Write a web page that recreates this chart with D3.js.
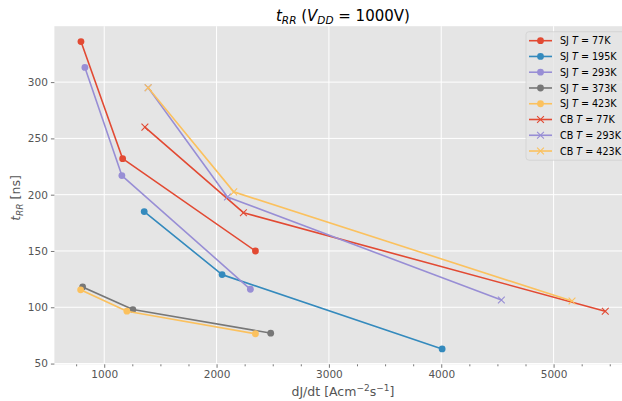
<!DOCTYPE html>
<html><head><meta charset="utf-8">
<script src="https://cdn.jsdelivr.net/npm/d3@7"></script>
<style>body{margin:0;background:#fff}svg{display:block;font-family:"DejaVu Sans",sans-serif}</style>
</head><body><svg id="c" width="622" height="401"></svg>
<script>
// ---- data ----
const seriesNames = ["SJ 77K","SJ 195K","SJ 293K","SJ 373K","SJ 423K","CB 77K","CB 293K","CB 423K"];
const seriesLabels = [["SJ","77K"],["SJ","195K"],["SJ","293K"],["SJ","373K"],["SJ","423K"],["CB","77K"],["CB","293K"],["CB","423K"]];
const seriesColors = ["#E24A33","#348ABD","#988ED5","#777777","#FBC15E","#E24A33","#988ED5","#FBC15E"];
const seriesMarkers = ["o","o","o","o","o","x","x","x"];
const sj77x  = [793, 1164, 2346],  sj77y  = [336, 232, 150];
const sj195x = [1356, 2049, 4008], sj195y = [185, 129, 63];
const sj293x = [828, 1157, 2301],  sj293y = [313, 217, 116];
const sj373x = [808, 1255, 2482],  sj373y = [118, 98, 77];
const sj423x = [790, 1202, 2346],  sj423y = [115.5, 96.5, 76.5];
const cb77x  = [1362, 2239, 5460], cb77y  = [260, 184, 96.5];
const cb293x = [1391, 2097, 4535], cb293y = [295, 198, 106.5];
const cb423x = [1391, 2153, 5164], cb423y = [295, 202.5, 105.5];
const xs = [sj77x, sj195x, sj293x, sj373x, sj423x, cb77x, cb293x, cb423x];
const ys = [sj77y, sj195y, sj293y, sj373y, sj423y, cb77y, cb293y, cb423y];
const xTicks = [1000, 2000, 3000, 4000, 5000];
const xMinorTicks = d3.range(750, 5751, 250).filter(v => v % 1000 !== 0);
const yTicks = [50, 100, 150, 200, 250, 300];

// ---- layout ----
const L = 54.4, R = 631.5, T = 26.2, B = 364.3;
const allX = xs.flat(), allY = ys.flat();
const xr = d3.extent(allX), yr = d3.extent(allY);
const xpad = (xr[1]-xr[0])*0.05, ypad = (yr[1]-yr[0])*0.05;
const x = d3.scaleLinear().domain([xr[0]-xpad, xr[1]+xpad]).range([L, R]);
const y = d3.scaleLinear().domain([yr[0]-ypad, yr[1]+ypad]).range([B, T]);

const svg = d3.select("#c");
svg.append("defs").append("clipPath").attr("id","clip").append("rect")
  .attr("x",L).attr("y",T).attr("width",R-L).attr("height",B-T);
svg.append("rect").attr("x",L).attr("y",T).attr("width",R-L).attr("height",B-T).attr("fill","#E5E5E5");

// grid
const grid = svg.append("g").attr("stroke","#fff").attr("stroke-width",1);
xTicks.forEach(v => grid.append("line").attr("x1",x(v)).attr("x2",x(v)).attr("y1",T).attr("y2",B));
yTicks.forEach(v => grid.append("line").attr("y1",y(v)).attr("y2",y(v)).attr("x1",L).attr("x2",R));

// axes
const xAxis = d3.axisBottom(x).tickValues(xTicks).tickSize(3.5).tickPadding(3).tickFormat(d3.format("d"));
const gx = svg.append("g").attr("transform",`translate(0,${B})`).call(xAxis);
const gxm = svg.append("g").attr("transform",`translate(0,${B})`).call(d3.axisBottom(x).tickValues(xMinorTicks).tickSize(2).tickFormat(""));
const yAxis = d3.axisLeft(y).tickValues(yTicks).tickSize(3.5).tickPadding(3).tickFormat(d3.format("d"));
const gy = svg.append("g").attr("transform",`translate(${L},0)`).call(yAxis);
[gx,gxm,gy].forEach(g => {
  g.select(".domain").remove();
  g.selectAll(".tick line").attr("stroke","#555").attr("stroke-width",0.8);
  g.selectAll(".tick text").attr("fill","#555").attr("font-size","10.5px").attr("font-family","DejaVu Sans");
});

// series
const plot = svg.append("g").attr("clip-path","url(#clip)");
const line = d3.line().x(d => x(d[0])).y(d => y(d[1]));
function marker(g, type, cx, cy, color) {
  if (type === "o") {
    g.append("circle").attr("cx",cx).attr("cy",cy).attr("r",3.4).attr("fill",color);
  } else {
    const s = 3.4;
    g.append("path").attr("d",`M${cx-s},${cy-s}L${cx+s},${cy+s}M${cx-s},${cy+s}L${cx+s},${cy-s}`)
      .attr("stroke",color).attr("stroke-width",1.1).attr("fill","none");
  }
}
xs.forEach((xa, i) => {
  const pts = xa.map((v, j) => [v, ys[i][j]]);
  const g = plot.append("g");
  g.append("path").attr("d", line(pts)).attr("fill","none").attr("stroke",seriesColors[i]).attr("stroke-width",1.6)
    .attr("stroke-linejoin","round").attr("stroke-linecap","square");
  pts.forEach(p => marker(g, seriesMarkers[i], x(p[0]), y(p[1]), seriesColors[i]));
});

// legend
const lg = svg.append("g");
lg.append("rect").attr("x",526).attr("y",31.7).attr("width",101).attr("height",128.5).attr("rx",3)
  .attr("fill","#E5E5E5").attr("fill-opacity",0.8).attr("stroke","#CCCCCC").attr("stroke-opacity",0.8).attr("stroke-width",0.8);
seriesLabels.forEach((lab, i) => {
  const cy = 40.7 + i*15.76;
  lg.append("line").attr("x1",529).attr("x2",552).attr("y1",cy).attr("y2",cy).attr("stroke",seriesColors[i]).attr("stroke-width",1.6);
  marker(lg, seriesMarkers[i], 540.5, cy, seriesColors[i]);
  const t = lg.append("text").attr("x",560).attr("y",cy+3.6).attr("font-size","9.6px").attr("fill","#000");
  t.append("tspan").text(lab[0] + " ");
  t.append("tspan").attr("font-style","italic").text("T");
  t.append("tspan").text(" = " + lab[1]);
});

// title
const title = svg.append("text").attr("x",(L+R)/2).attr("y",21).attr("text-anchor","middle").attr("font-size","15px").attr("fill","#000");
title.append("tspan").attr("font-style","italic").text("t");
title.append("tspan").attr("font-style","italic").attr("font-size","10.5px").attr("dy",3).text("RR");
title.append("tspan").attr("dy",-3).text(" (");
title.append("tspan").attr("font-style","italic").text("V");
title.append("tspan").attr("font-style","italic").attr("font-size","10.5px").attr("dy",3).text("DD");
title.append("tspan").attr("dy",-3).text(" = 1000V)");

// x label
const xl = svg.append("text").attr("x",(L+R)/2).attr("y",396).attr("text-anchor","middle").attr("font-size","12.5px").attr("fill","#555");
xl.append("tspan").text("dJ/dt [Acm");
xl.append("tspan").attr("font-size","9px").attr("dy",-5).text("−2");
xl.append("tspan").attr("dy",5).text("s");
xl.append("tspan").attr("font-size","9px").attr("dy",-5).text("−1");
xl.append("tspan").attr("dy",5).text("]");

// y label
const yl = svg.append("text").attr("transform","translate(20,198) rotate(-90)").attr("text-anchor","middle").attr("font-size","12.5px").attr("fill","#555");
yl.append("tspan").attr("font-style","italic").text("t");
yl.append("tspan").attr("font-style","italic").attr("font-size","9px").attr("dy",3).text("RR");
yl.append("tspan").attr("dy",-3).text(" [ns]");
</script></body></html>
